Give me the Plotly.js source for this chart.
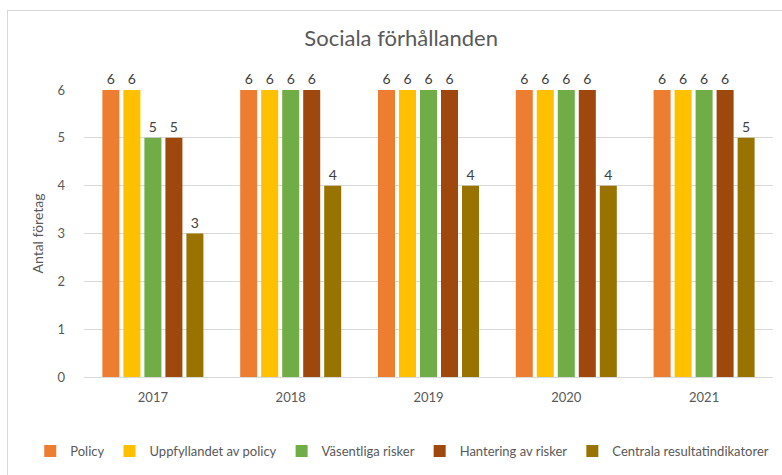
<!DOCTYPE html>
<html>
<head>
<meta charset="utf-8">
<script src="https://cdn.plot.ly/plotly-3.0.1.min.js"></script>
<style>
html,body{margin:0;padding:0;background:#fff;}
#frame{position:absolute;left:7px;top:10px;width:800px;height:500px;border-left:1.5px solid #D9D9D9;border-top:1.5px solid #D9D9D9;}
#chart{position:absolute;left:0;top:0;width:782px;height:475px;}
</style>
</head>
<body>
<div id="frame"></div>
<div id="chart"></div>
<script>
const years = ["2017", "2018", "2019", "2020", "2021"];
const seriesNames = ["Policy", "Uppfyllandet av policy", "Väsentliga risker", "Hantering av risker", "Centrala resultatindikatorer"];
const policy = [6, 6, 6, 6, 6];
const uppfyllandet = [6, 6, 6, 6, 6];
const vasentliga = [5, 6, 6, 6, 6];
const hantering = [5, 6, 6, 6, 6];
const centrala = [3, 4, 4, 4, 5];
const colors = ["#ED7D31", "#FFC000", "#70AD47", "#9E480E", "#997300"];
const values = [policy, uppfyllandet, vasentliga, hantering, centrala];
const yTicks = [0, 1, 2, 3, 4, 5, 6];

const font = "Lato, 'Open Sans', sans-serif";
const traces = values.map((v, i) => ({
  type: "bar",
  name: seriesNames[i],
  x: years,
  y: v,
  marker: {color: colors[i]},
  text: v.map(String),
  textposition: "outside",
  textfont: {family: font, size: 14, color: "#404040"},
  cliponaxis: false,
  hoverinfo: "none"
}));

const layout = {
  width: 782, height: 475,
  paper_bgcolor: "rgba(0,0,0,0)",
  plot_bgcolor: "rgba(0,0,0,0)",
  margin: {l: 84, r: 9, t: 90, b: 98},
  barmode: "group",
  bargap: 0.238,
  bargroupgap: 0.19,
  title: {text: "Sociala förhållanden", font: {family: font, size: 22, color: "#595959"},
          x: 0.513, xref: "container", xanchor: "center", y: 0.92, yref: "container", yanchor: "middle"},
  xaxis: {
    type: "category",
    tickfont: {family: font, size: 13, color: "#595959"},
    showline: true, linecolor: "#D9D9D9", linewidth: 1,
    ticks: "", ticklabelstandoff: 8, fixedrange: true
  },
  yaxis: {
    range: [0, 6],
    tickvals: yTicks,
    ticktext: yTicks.map(String),
    tickfont: {family: font, size: 13, color: "#595959"},
    showgrid: true, gridcolor: "#D9D9D9", gridwidth: 1,
    zeroline: false,
    ticks: "", ticklabelstandoff: 18,
    title: {text: "Antal företag", font: {family: font, size: 14, color: "#595959"}, standoff: 10},
    fixedrange: true
  },
  showlegend: true,
  legend: {
    orientation: "h", xref: "paper", x: -0.078, xanchor: "left",
    yref: "paper", y: -0.258, yanchor: "middle",
    font: {family: font, size: 13, color: "#595959"},
    itemwidth: 30, traceorder: "normal"
  }
};

Plotly.newPlot("chart", traces, layout, {staticPlot: true, displayModeBar: false});
</script>
</body>
</html>
